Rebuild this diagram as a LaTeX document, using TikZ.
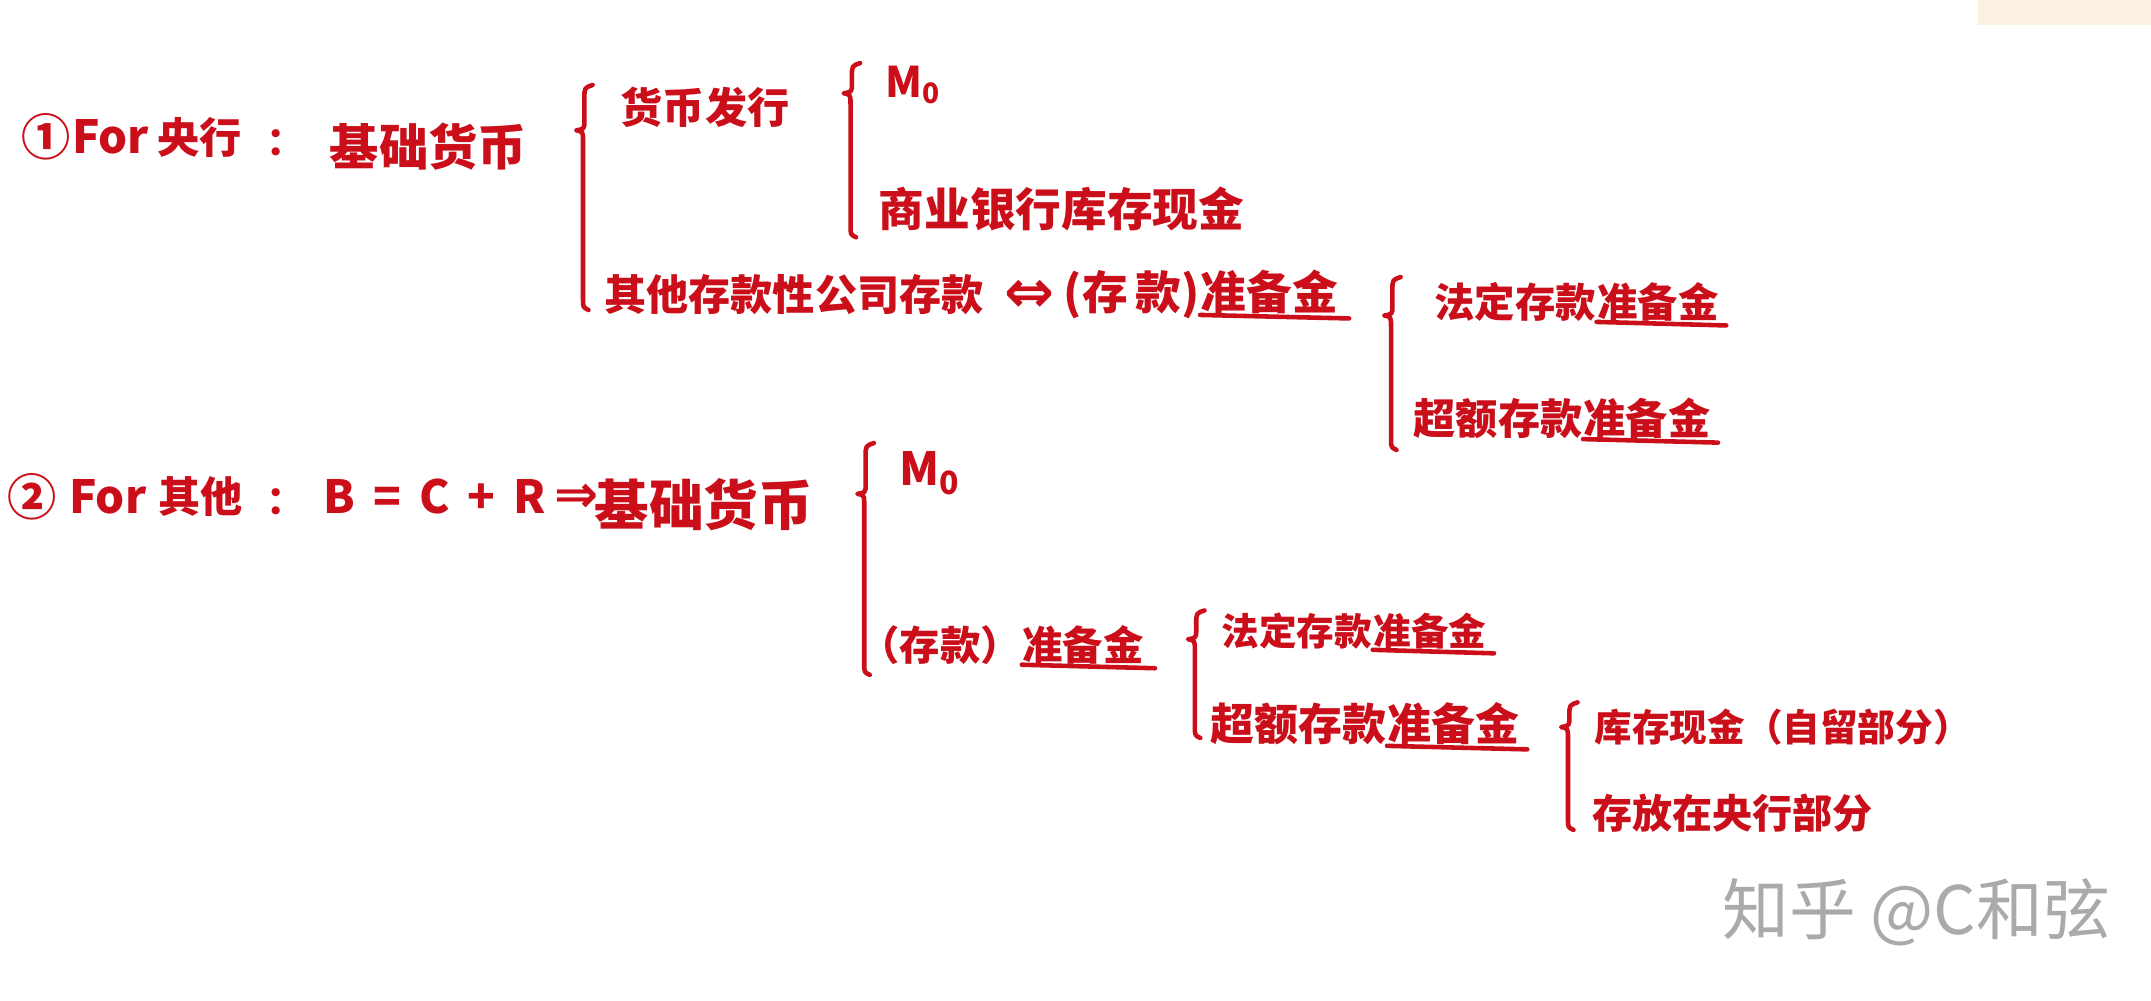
\documentclass[tikz,border=0pt]{standalone}
\usepackage{fontspec}
\usetikzlibrary{positioning}
\newfontfamily\cjk{Noto Sans CJK SC}
\newfontfamily\arrowfont{DejaVu Sans}
\definecolor{inkred}{RGB}{202,14,26}
\definecolor{markgray}{RGB}{170,170,170}
\definecolor{paperbeige}{RGB}{250,241,226}

% hand-drawn brace: x, top, tip, bottom
\newcommand{\inkbrace}[4]{%
  \draw[pen] (#1+7,#2) .. controls (#1+1,#2+2) .. (#1+1,#2+10)
    -- (#1+1,#3-7) .. controls (#1+1,#3-1) .. (#1-5,#3)
    .. controls (#1,#3+1) .. (#1,#3+8)
    -- (#1,#4-8) .. controls (#1,#4-2) .. (#1+4,#4);}

\tikzset{
  ink/.style={text=inkred, inner sep=0pt, anchor=west},
  sz/.style={font=\cjk\bfseries\fontsize{#1}{#1}\selectfont},
  arr/.style={font=\arrowfont\bfseries\fontsize{#1}{#1}\selectfont},
  pen/.style={draw=inkred, line width=1.3pt, line cap=round, line join=round},
}

\begin{document}
\begin{tikzpicture}[x=0.1372mm, y=-0.1372mm]

    % Fix the page to the reference size
    \useasboundingbox (0,0) rectangle (1568,729);
    \fill[paperbeige] (1442,0) rectangle (1568,18);

    % First case: the central bank
    \node[ink, sz=14] (one) at (15,100) {①};
    \node[ink, sz=13] (forA) at (52,100) {For};
    \node[ink, sz=12] (cbank) at (114,100) {央行};
    \node[ink, sz=11] (colonA) at (194,104) {：};
    \node[ink, sz=14] (baseA) at (240,107) {基础货币};

    \inkbrace{425}{62}{95}{226}
    \node[ink, sz=12] (issue) at (452,78) {货币发行};

    \inkbrace{620}{46}{68}{173}
    \node[ink, sz=12] (mzeroA) at (645,62) {M\textsubscript{0}};
    \node[ink, sz=13] (vault) at (640,152) {商业银行库存现金};

    \node[ink, sz=12] (odc) at (440,215) {其他存款性公司存款};
    \node[ink, arr=17] (iff) at (732,216) {⇔};
    \node[ink, sz=13] (depA) at (775,215) {(存\,款)};
    \node[ink, sz=13, anchor=base west] (resA) at (depA.base east) {准备金};
    \draw[pen] (resA.south west) -- ([xshift=3pt, yshift=-1pt]resA.south east);

    \inkbrace{1014}{202}{230}{328}
    \node[ink, sz=11.5] (legalA) at (1045,220) {法定存款};
    \node[ink, sz=11.5, anchor=base west] (legalresA) at (legalA.base east) {准备金};
    \draw[pen] (legalresA.south west) -- ([xshift=2pt, yshift=-1pt]legalresA.south east);
    \node[ink, sz=12] (excessA) at (1030,305) {超额存款};
    \node[ink, sz=12, anchor=base west] (excessresA) at (excessA.base east) {准备金};
    \draw[pen] (excessresA.south west) -- ([xshift=2pt, yshift=-1pt]excessresA.south east);

    % Second case: the other banks
    \node[ink, sz=14] (two) at (5,362) {②};
    \node[ink, sz=13] (forB) at (50,362) {For};
    \node[ink, sz=12] (others) at (115,362) {其他};
    \node[ink, sz=11] (colonB) at (194,366) {：};
    \node[ink, sz=13] (bcr) at (235,362) {B\hspace{0.4em}=\hspace{0.4em}C\hspace{0.4em}+\hspace{0.4em}R};
    \node[ink, arr=15] (imp) at (404,363) {⇒};
    \node[ink, sz=15.5] (baseB) at (433,368) {基础货币};

    \inkbrace{630}{323}{360}{492}
    \node[ink, sz=13] (mzeroB) at (655,345) {M\textsubscript{0}};
    \node[ink, sz=11.5] (depB) at (626,470) {（存款）};
    \node[ink, sz=11.5, anchor=base west] (resB) at (depB.base east) {准备金};
    \draw[pen] (resB.south west) -- ([xshift=3pt, yshift=-1pt]resB.south east);

    \inkbrace{871}{445}{466}{538}
    \node[ink, sz=10.7] (legalB) at (890,460) {法定存款};
    \node[ink, sz=10.7, anchor=base west] (legalresB) at (legalB.base east) {准备金};
    \draw[pen] (legalresB.south west) -- ([xshift=2pt, yshift=-1pt]legalresB.south east);
    \node[ink, sz=12.5] (excessB) at (882,528) {超额存款};
    \node[ink, sz=12.5, anchor=base west] (excessresB) at (excessB.base east) {准备金};
    \draw[pen] (excessresB.south west) -- ([xshift=2pt, yshift=-1pt]excessresB.south east);

    \inkbrace{1143}{512}{530}{605}
    \node[ink, sz=10.7] (cash) at (1162,530) {库存现金（自留部分）};
    \node[ink, sz=11.4] (atcb) at (1160,593) {存放在央行部分};

    % Watermark
    \node[inner sep=0pt, anchor=west, text=markgray, font=\cjk\fontsize{19}{19}\selectfont] (mark) at (1255,665) {知乎 @C和弦};

\end{tikzpicture}
\end{document}
